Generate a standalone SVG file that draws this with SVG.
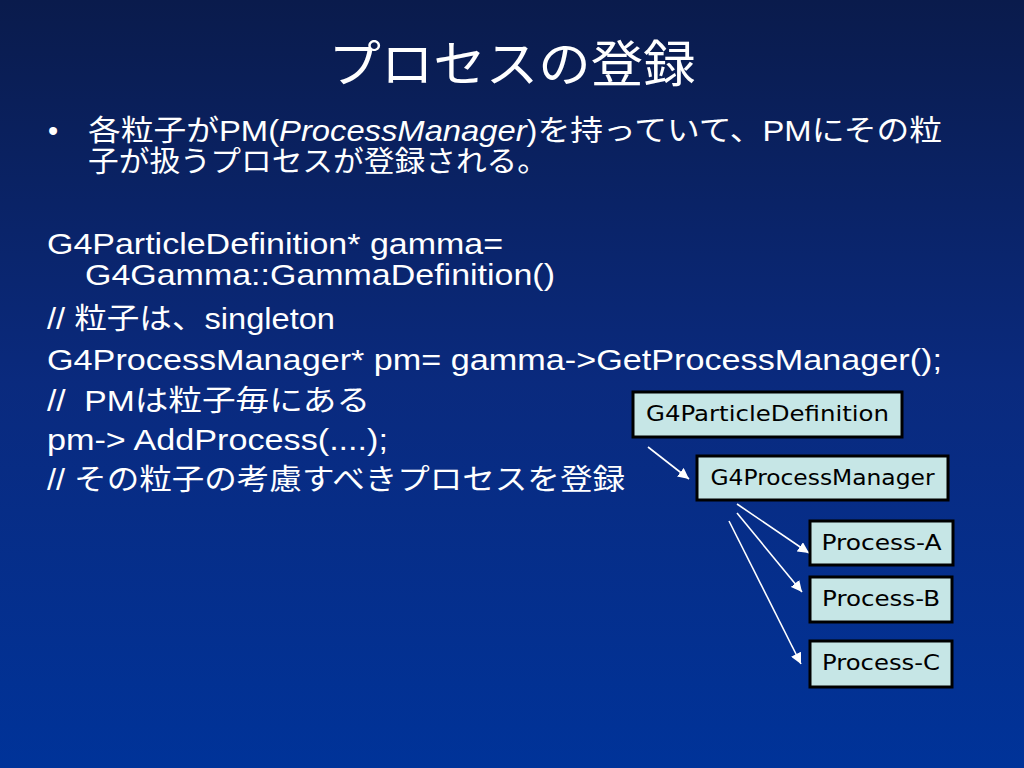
<svg xmlns="http://www.w3.org/2000/svg" width="1024" height="768" viewBox="0 0 1024 768">
<defs>
<linearGradient id="bg" x1="0" y1="0" x2="0" y2="1">
<stop offset="0" stop-color="#0a1b4c"/>
<stop offset="0.5" stop-color="#0a2a7e"/>
<stop offset="1" stop-color="#003399"/>
</linearGradient>
<marker id="ah" viewBox="0 0 10 10" refX="10" refY="5" markerWidth="11" markerHeight="11" markerUnits="userSpaceOnUse" orient="auto">
<path d="M0,0 L10,5 L0,10 z" fill="#ffffff"/>
</marker>
<style>
.t{fill:#ffffff;font-family:"Liberation Sans","Noto Sans CJK JP",sans-serif;font-size:29px}
.title{fill:#ffffff;font-family:"Liberation Sans","Noto Sans CJK JP",sans-serif;font-size:50px}
.box{fill:#c6e6e6;stroke:#000000;stroke-width:3}
.bt{fill:#000000;font-family:"DejaVu Sans","Noto Sans",sans-serif;font-size:21px}
.conn line{stroke:#ffffff;stroke-width:1.6;marker-end:url(#ah)}
</style>
</defs>
<rect x="0" y="0" width="1024" height="768" fill="url(#bg)"/>
<text class="title" x="512" y="82" text-anchor="middle" textLength="367" lengthAdjust="spacingAndGlyphs">プロセスの登録</text>
<text class="t" x="48" y="141">•</text>
<text class="t" x="88" y="141" textLength="854" lengthAdjust="spacingAndGlyphs">各粒子がPM(<tspan font-style="italic">ProcessManager</tspan>)を持っていて、PMにその粒</text>
<text class="t" x="88" y="172" textLength="460" lengthAdjust="spacingAndGlyphs">子が扱うプロセスが登録される。</text>
<text class="t" x="47" y="254" textLength="456" lengthAdjust="spacingAndGlyphs">G4ParticleDefinition* gamma=</text>
<text class="t" x="85" y="285" textLength="470" lengthAdjust="spacingAndGlyphs">G4Gamma::GammaDefinition()</text>
<text class="t" x="47" y="329" textLength="288" lengthAdjust="spacingAndGlyphs">// 粒子は、singleton</text>
<text class="t" x="47" y="370" textLength="895" lengthAdjust="spacingAndGlyphs">G4ProcessManager* pm= gamma-&gt;GetProcessManager();</text>
<text class="t" x="47" y="411" textLength="323" lengthAdjust="spacingAndGlyphs" xml:space="preserve">//  PMは粒子毎にある</text>
<text class="t" x="47" y="450" textLength="341" lengthAdjust="spacingAndGlyphs">pm-&gt; AddProcess(....);</text>
<text class="t" x="47" y="490" textLength="578" lengthAdjust="spacingAndGlyphs">// その粒子の考慮すべきプロセスを登録</text>
<g id="connectors" class="conn">
<line x1="648" y1="447" x2="689" y2="479"/>
<line x1="737" y1="504" x2="809" y2="553"/>
<line x1="737" y1="513" x2="802" y2="592"/>
<line x1="729" y1="521" x2="801" y2="664"/>
</g>
<g id="n-particledef">
<rect class="box" x="633" y="392" width="269" height="45"/>
<text class="bt" x="767.5" y="421" text-anchor="middle" textLength="243" lengthAdjust="spacingAndGlyphs">G4ParticleDefinition</text>
</g>
<g id="n-processmanager">
<rect class="box" x="697" y="456" width="251" height="44"/>
<text class="bt" x="822.5" y="485" text-anchor="middle" textLength="224" lengthAdjust="spacingAndGlyphs">G4ProcessManager</text>
</g>
<g id="n-process-a">
<rect class="box" x="810" y="521" width="143" height="44"/>
<text class="bt" x="881.5" y="550" text-anchor="middle" textLength="120" lengthAdjust="spacingAndGlyphs">Process-A</text>
</g>
<g id="n-process-b">
<rect class="box" x="810" y="577" width="142" height="45"/>
<text class="bt" x="881" y="606" text-anchor="middle" textLength="118" lengthAdjust="spacingAndGlyphs">Process-B</text>
</g>
<g id="n-process-c">
<rect class="box" x="810" y="641" width="142" height="46"/>
<text class="bt" x="881" y="670" text-anchor="middle" textLength="118" lengthAdjust="spacingAndGlyphs">Process-C</text>
</g>
</svg>
